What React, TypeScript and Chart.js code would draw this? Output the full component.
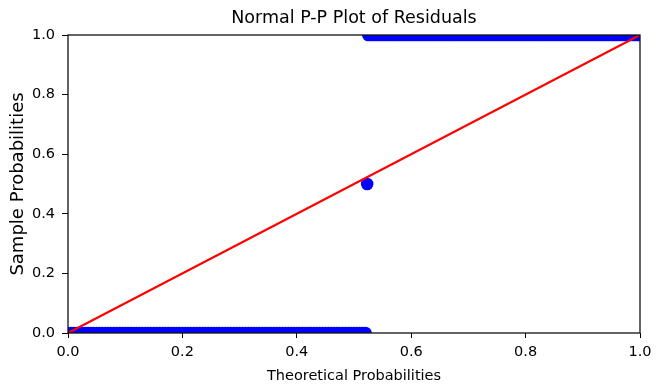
import React, { useEffect, useRef } from "react";
import { Chart, registerables } from "chart.js";

Chart.register(...registerables);

const chartTitle = "Normal P-P Plot of Residuals";
const xAxisTitle = "Theoretical Probabilities";
const yAxisTitle = "Sample Probabilities";

// Theoretical probabilities of residuals whose sample probability is 0
const lowTheoretical = [
  0.0, 0.005, 0.01, 0.015, 0.02, 0.025, 0.03, 0.035, 0.04, 0.045,
  0.05, 0.055, 0.06, 0.065, 0.07, 0.075, 0.08, 0.085, 0.09, 0.095,
  0.1, 0.105, 0.11, 0.115, 0.12, 0.125, 0.13, 0.135, 0.14, 0.145,
  0.15, 0.155, 0.16, 0.165, 0.17, 0.175, 0.18, 0.185, 0.19, 0.195,
  0.2, 0.205, 0.21, 0.215, 0.22, 0.225, 0.23, 0.235, 0.24, 0.245,
  0.25, 0.255, 0.26, 0.265, 0.27, 0.275, 0.28, 0.285, 0.29, 0.295,
  0.3, 0.305, 0.31, 0.315, 0.32, 0.325, 0.33, 0.335, 0.34, 0.345,
  0.35, 0.355, 0.36, 0.365, 0.37, 0.375, 0.38, 0.385, 0.39, 0.395,
  0.4, 0.405, 0.41, 0.415, 0.42, 0.425, 0.43, 0.435, 0.44, 0.445,
  0.45, 0.455, 0.46, 0.465, 0.47, 0.475, 0.48, 0.485, 0.49, 0.495,
  0.5, 0.505, 0.51, 0.515, 0.52,
];
const lowSample = 0.0;

// The single middle point
const midTheoretical = [0.523];
const midSample = [0.5];

// Theoretical probabilities of residuals whose sample probability is 1
const highTheoretical = [
  0.525, 0.53, 0.535, 0.54, 0.545, 0.55, 0.555, 0.56, 0.565, 0.57,
  0.575, 0.58, 0.585, 0.59, 0.595, 0.6, 0.605, 0.61, 0.615, 0.62,
  0.625, 0.63, 0.635, 0.64, 0.645, 0.65, 0.655, 0.66, 0.665, 0.67,
  0.675, 0.68, 0.685, 0.69, 0.695, 0.7, 0.705, 0.71, 0.715, 0.72,
  0.725, 0.73, 0.735, 0.74, 0.745, 0.75, 0.755, 0.76, 0.765, 0.77,
  0.775, 0.78, 0.785, 0.79, 0.795, 0.8, 0.805, 0.81, 0.815, 0.82,
  0.825, 0.83, 0.835, 0.84, 0.845, 0.85, 0.855, 0.86, 0.865, 0.87,
  0.875, 0.88, 0.885, 0.89, 0.895, 0.9, 0.905, 0.91, 0.915, 0.92,
  0.925, 0.93, 0.935, 0.94, 0.945, 0.95, 0.955, 0.96, 0.965, 0.97,
  0.975, 0.98, 0.985, 0.99, 0.995, 1.0,
];
const highSample = 1.0;

// 45-degree reference line
const refLineX = [0, 1];
const refLineY = [0, 1];

const xTicks = [0, 0.2, 0.4, 0.6, 0.8, 1.0];
const yTicks = [0, 0.2, 0.4, 0.6, 0.8, 1.0];

const FONT = "'DejaVu Sans', sans-serif";

const frameBox = {
  id: "frameBox",
  beforeDatasetsDraw(chart: any) {
    const { ctx, chartArea } = chart;
    ctx.save();
    ctx.beginPath();
    ctx.rect(
      chartArea.left,
      chartArea.top,
      chartArea.right - chartArea.left,
      chartArea.bottom - chartArea.top
    );
    ctx.clip();
  },
  afterDatasetsDraw(chart: any) {
    const { ctx, chartArea } = chart;
    ctx.restore();
    ctx.save();
    ctx.strokeStyle = "#111";
    ctx.lineWidth = 1.3;
    ctx.strokeRect(
      chartArea.left,
      chartArea.top,
      chartArea.right - chartArea.left,
      chartArea.bottom - chartArea.top
    );
    ctx.restore();
  },
};

export default function App() {
  const ref = useRef<HTMLCanvasElement | null>(null);

  useEffect(() => {
    document.body.style.margin = "0";
    const canvas = ref.current;
    if (!canvas) return;

    const points = [
      ...lowTheoretical.map((x) => ({ x, y: lowSample })),
      ...midTheoretical.map((x, i) => ({ x, y: midSample[i] })),
      ...highTheoretical.map((x) => ({ x, y: highSample })),
    ];
    const line = refLineX.map((x, i) => ({ x, y: refLineY[i] }));

    const tickFont = { family: FONT, size: 14.5 };

    const chart = new Chart(canvas, {
      type: "scatter",
      data: {
        datasets: [
          {
            type: "line",
            data: line,
            borderColor: "#ff0000",
            borderWidth: 2.2,
            pointRadius: 0,
            fill: false,
            clip: false,
          } as any,
          {
            type: "scatter",
            data: points,
            backgroundColor: "#0000ff",
            borderColor: "#0000ff",
            pointRadius: 6.3,
            pointBorderWidth: 0,
            clip: false,
          } as any,
        ],
      },
      options: {
        animation: false,
        responsive: false,
        events: [],
        layout: { padding: { left: 0, right: 24, top: 0, bottom: 0 } },
        plugins: {
          legend: { display: false },
          tooltip: { enabled: false },
          title: {
            display: true,
            fullSize: false,
            text: chartTitle,
            color: "#000",
            font: { family: FONT, size: 17.5, weight: "normal", lineHeight: 1.2 },
            padding: { top: 7.5, bottom: 6.5 },
          },
        },
        scales: {
          x: {
            type: "linear",
            min: 0,
            max: 1,
            afterBuildTicks: (scale: any) => {
              scale.ticks = xTicks.map((v) => ({ value: v }));
            },
            afterFit: (scale: any) => {
              scale.height = 57;
            },
            ticks: {
              color: "#000",
              font: tickFont,
              padding: 6,
              maxRotation: 0,
              callback: (v: any) => Number(v).toFixed(1),
            },
            grid: {
              display: true,
              drawOnChartArea: false,
              drawTicks: true,
              tickLength: 5,
              tickColor: "#000",
              tickWidth: 1,
            },
            border: { display: false },
            title: {
              display: true,
              text: xAxisTitle,
              color: "#000",
              font: { family: FONT, size: 14.5, lineHeight: 1.2 },
              padding: { top: 0, bottom: 5 },
            },
          },
          y: {
            type: "linear",
            min: 0,
            max: 1,
            afterBuildTicks: (scale: any) => {
              scale.ticks = yTicks.map((v) => ({ value: v }));
            },
            afterFit: (scale: any) => {
              scale.width = 68;
            },
            ticks: {
              color: "#000",
              font: tickFont,
              padding: 7,
              callback: (v: any) => Number(v).toFixed(1),
            },
            grid: {
              display: true,
              drawOnChartArea: false,
              drawTicks: true,
              tickLength: 6,
              tickColor: "#000",
              tickWidth: 1,
            },
            border: { display: false },
            title: {
              display: true,
              text: yAxisTitle,
              color: "#000",
              font: { family: FONT, size: 18, lineHeight: 1.2 },
              padding: { top: 8, bottom: 0 },
            },
          },
        },
      },
      plugins: [frameBox],
    });

    return () => chart.destroy();
  }, []);

  return (
    <div style={{ width: 664, height: 390 }}>
      <canvas ref={ref} width={664} height={390} />
    </div>
  );
}
